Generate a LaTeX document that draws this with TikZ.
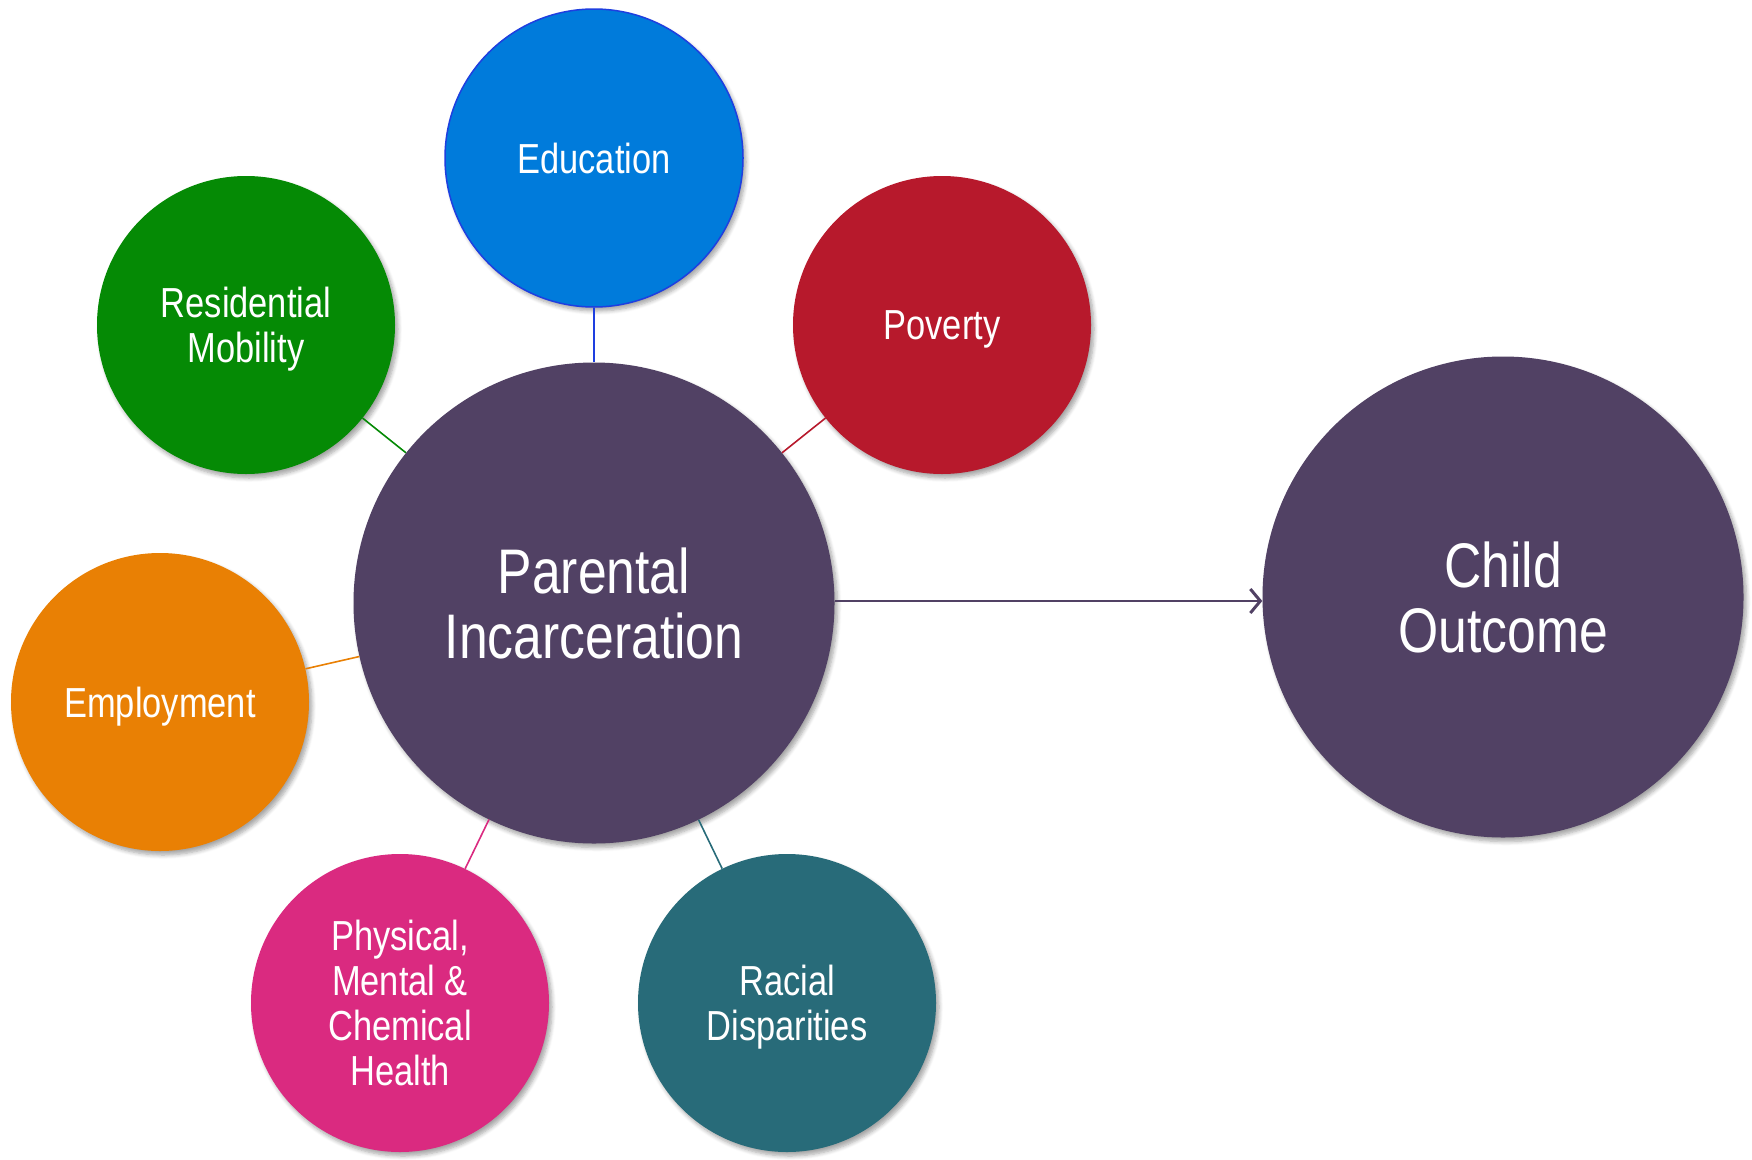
\documentclass[tikz,border=0pt]{standalone}
\usepackage{fontspec}
\setmainfont{Liberation Sans}[FakeStretch=0.82]
\usetikzlibrary{shadows.blur,arrows.meta}
\definecolor{cedu}{HTML}{007BDB}
\definecolor{ceduB}{HTML}{1E3FE0}
\definecolor{cres}{HTML}{058A05}
\definecolor{cpov}{HTML}{B7192C}
\definecolor{cpi}{HTML}{514164}
\definecolor{cemp}{HTML}{E98004}
\definecolor{cphy}{HTML}{DA2A80}
\definecolor{crac}{HTML}{286B79}
\tikzset{
  bub/.style={circle, inner sep=0pt, minimum size=298pt, text=white, align=center,
    text depth=0pt, font=\fontsize{42}{45}\selectfont,
    blur shadow={shadow xshift=3pt, shadow yshift=-4pt, shadow blur steps=6, shadow blur radius=4pt, shadow opacity=35}},
  big/.style={bub, minimum size=481pt, font=\fontsize{63}{65}\selectfont},
  link/.style={line width=1.6pt}
}
\begin{document}
\begin{tikzpicture}[x=1pt,y=-1pt]
\useasboundingbox (0,0) rectangle (1752,1159);
\node[bub, fill=cedu, draw=ceduB, line width=1.5pt] (edu) at (594,158) {Education};
\node[bub, fill=cres] (res) at (246,325) {Residential\\Mobility};
\node[bub, fill=cpov] (pov) at (942,325) {Poverty};
\node[big, fill=cpi] (pi) at (594,603) {Parental\\Incarceration};
\node[bub, fill=cemp] (emp) at (160,702) {Employment};
\node[bub, fill=cphy] (phy) at (400,1003) {Physical,\\Mental \&\\Chemical\\Health};
\node[bub, fill=crac] (rac) at (787,1003) {Racial\\Disparities};
\node[big, fill=cpi] (co) at (1503,597) {Child\\Outcome};
\draw[link, draw=ceduB] (edu) -- (pi);
\draw[link, draw=cres] (res) -- (pi);
\draw[link, draw=cpov] (pov) -- (pi);
\draw[link, draw=cemp] (emp) -- (pi);
\draw[link, draw=cphy] (phy) -- (pi);
\draw[link, draw=crac] (rac) -- (pi);
\coordinate (ae) at (pi.east |- 0,601);
\draw[line width=2.8pt, draw=cpi, -{Straight Barb[length=10pt,width=24pt,line width=3pt]}] (ae) -- (ae -| co.west);
\end{tikzpicture}
\end{document}
